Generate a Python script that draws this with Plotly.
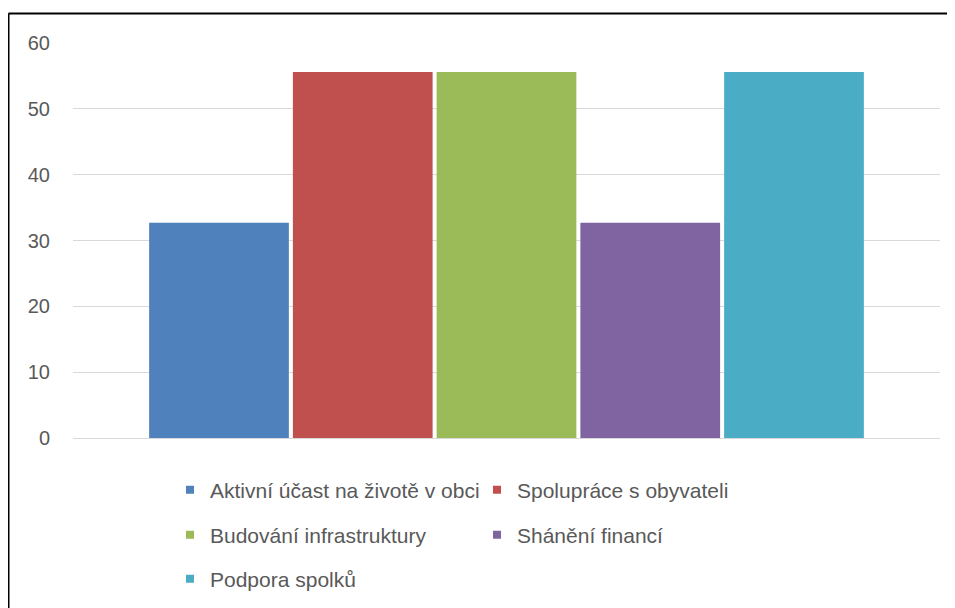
import plotly.graph_objects as go

series_names = ["Aktivní účast na životě v obci", "Spolupráce s obyvateli",
                "Budování infrastruktury", "Shánění financí", "Podpora spolků"]
values = [32.7, 55.6, 55.6, 32.7, 55.6]
colors = ["#4F81BD", "#C0504D", "#9BBB59", "#8064A2", "#4BACC6"]
category = ["Oblast"]
y_ticks = [0, 10, 20, 30, 40, 50, 60]
legend_rows = ["legend", "legend", "legend2", "legend2", "legend3"]

FONT = "Liberation Sans"
OFF = 8  # page body margin
fig = go.Figure()
for name, v, c in zip(series_names, values, colors):
    fig.add_trace(go.Bar(x=category, y=[v], name=name, marker=dict(color=c, line=dict(width=0)),
                         showlegend=False))
for name, c, lg in zip(series_names, colors, legend_rows):
    fig.add_trace(go.Scatter(x=[None], y=[None], mode="markers", name=name, legend=lg,
                             marker=dict(symbol="square", size=8, color=c), showlegend=True))

W, H = 955, 608
L, T = 73 - OFF, 43 - OFF
pw, ph = 867, 394.7
R = W - L - pw
B = H - T - ph
leg_common = dict(orientation="h", xref="container", yref="container", x=(170 - OFF) / W,
                  xanchor="left", yanchor="middle", entrywidth=262, entrywidthmode="pixels",
                  font=dict(family=FONT, size=21, color="#595959"), bgcolor="rgba(0,0,0,0)",
                  itemsizing="trace")
fig.update_layout(
    width=W, height=H, margin=dict(l=L, r=R, t=T, b=B),
    paper_bgcolor="white", plot_bgcolor="white",
    barmode="group", bargap=0.171, bargroupgap=0.028,
    font=dict(family=FONT, size=20, color="#595959"),
    xaxis=dict(showticklabels=False, showgrid=False, zeroline=False, showline=False, ticks=""),
    yaxis=dict(range=[0, 60], tickvals=y_ticks, showgrid=True, gridcolor="#D9D9D9", gridwidth=1,
               zeroline=True, zerolinecolor="#D9D9D9", zerolinewidth=1, showline=False, ticks="",
               ticklabelstandoff=22, tickfont=dict(family=FONT, size=20, color="#595959")),
    legend=dict(**leg_common, y=1 - (490 - OFF) / H),
    legend2=dict(**leg_common, y=1 - (535 - OFF) / H),
    legend3=dict(**leg_common, y=1 - (579 - OFF) / H),
)
xl = (8.5 - OFF - L) / pw
yt = 1 + (T - (13.5 - OFF)) / ph
fig.add_shape(type="line", xref="paper", yref="paper", x0=xl, x1=xl, y0=-1, y1=yt,
              line=dict(color="black", width=2))
fig.add_shape(type="line", xref="paper", yref="paper", x0=xl, x1=1.2, y0=yt, y1=yt,
              line=dict(color="black", width=2))
fig.write_html("out.html")
